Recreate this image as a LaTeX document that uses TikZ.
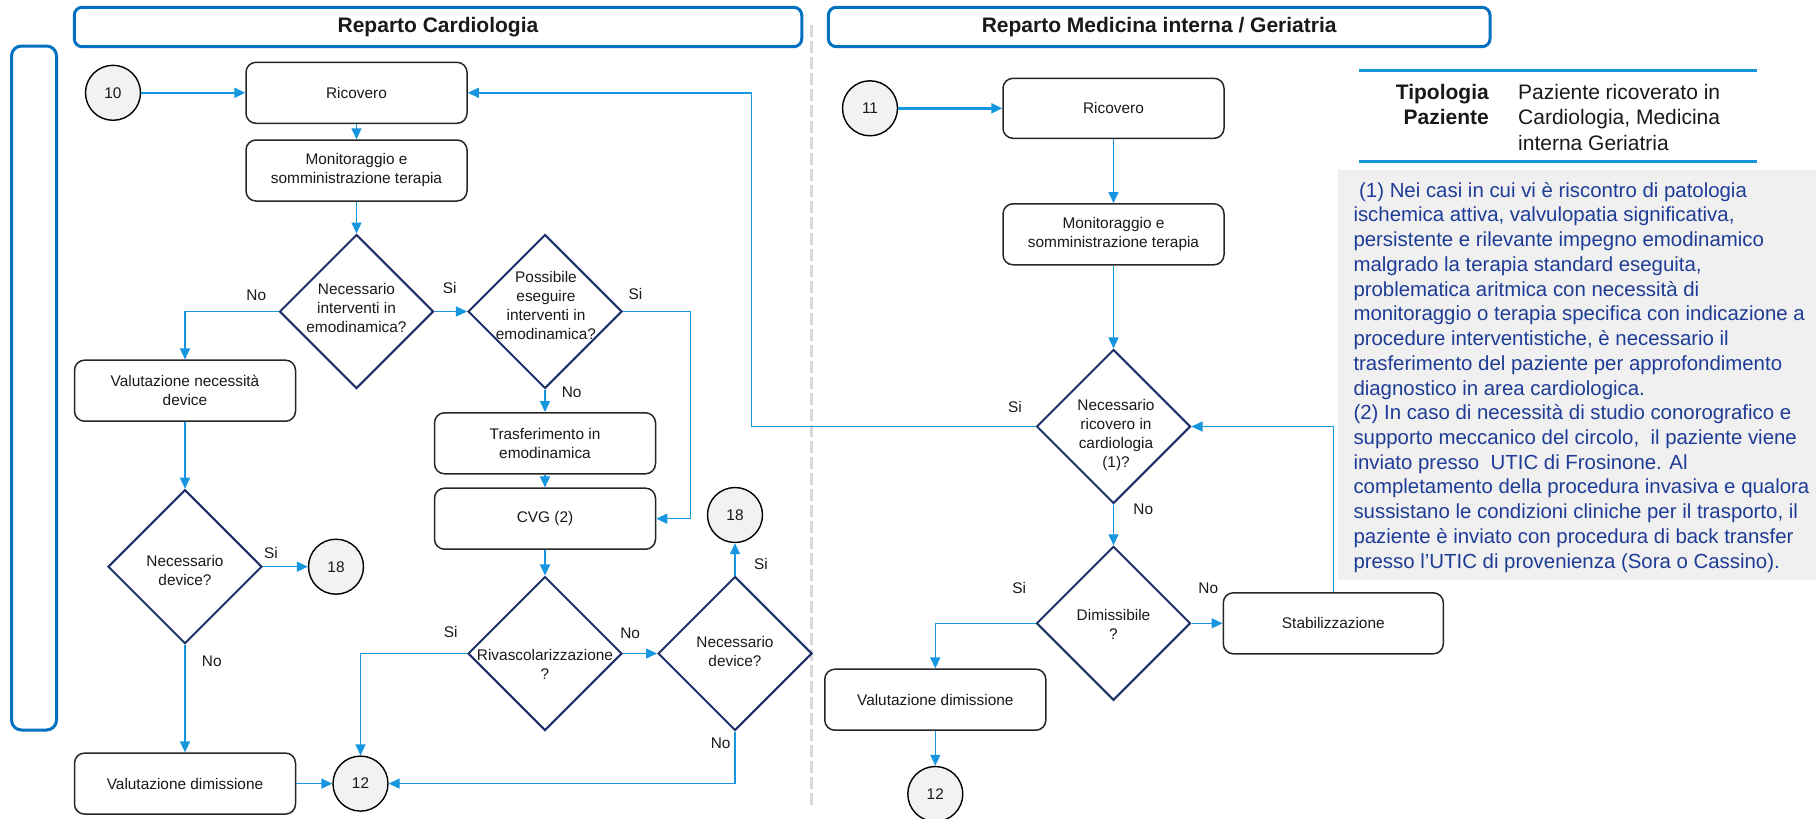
\documentclass[tikz,border=0pt]{standalone}
\usepackage{fontspec}
\setmainfont{Liberation Sans}
\usetikzlibrary{shapes.geometric,arrows.meta}
\definecolor{arr}{RGB}{22,150,222}
\definecolor{navy}{RGB}{31,48,104}
\definecolor{hdr}{RGB}{0,112,192}
\definecolor{boxline}{RGB}{38,38,38}
\definecolor{circfill}{RGB}{242,242,242}
\definecolor{notefill}{RGB}{240,240,240}
\definecolor{notetext}{RGB}{30,60,150}
\definecolor{tipline}{RGB}{20,150,220}
\definecolor{divider}{RGB}{217,217,217}
\begin{document}
\begin{tikzpicture}[x=1pt,y=-1pt,
  every node/.style={font=\fontsize{15.4}{19}\selectfont, text=black!90},
  procbox/.style={draw=boxline, line width=1.5pt, rounded corners=10pt, minimum width=221pt, minimum height=61pt, align=center, inner sep=0pt},
  dia/.style={diamond, draw=navy, line width=2pt, minimum width=154pt, minimum height=154pt, inner sep=0pt, aspect=1},
  dtext/.style={align=center, inner sep=0pt},
  circ/.style={circle, draw=black, line width=1.4pt, fill=circfill, minimum size=55pt, inner sep=0pt},
  hdrbox/.style={draw=hdr, line width=3pt, rounded corners=8pt, minimum height=39.4pt, inner sep=0pt, font=\fontsize{21}{25}\selectfont\bfseries},
  lbl/.style={inner sep=0pt, text height=11pt, text depth=0pt},
  conn/.style={draw=arr, line width=1.4pt, -{Triangle[length=11pt,width=10pt]}},
  thickconn/.style={conn, line width=2.5pt},
]
\useasboundingbox (0,0) rectangle (1816,819);

% headers and lanes
\node[hdrbox, minimum width=727.5pt] (h1) at (438,27) {Reparto Cardiologia};
\node[hdrbox, minimum width=661.7pt] (h2) at (1159.2,27) {Reparto Medicina interna / Geriatria};
\node[draw=hdr, line width=3pt, rounded corners=10pt, minimum width=45pt, minimum height=684pt] (lane) at (34,388) {};
\draw[divider, line width=3.5pt, dash pattern=on 12pt off 4pt] (811.5,25) -- (811.5,807);

% patient type table
\draw[tipline, line width=2.8pt] (1359,70.7) -- (1757,70.7);
\draw[tipline, line width=2.8pt] (1359,161.7) -- (1757,161.7);
\node[anchor=north east, inner sep=0pt, align=right, font=\fontsize{21}{25.5}\selectfont\bfseries] (tiph) at (1489,84) {Tipologia\\Paziente};
\node[anchor=north west, inner sep=0pt, align=left, font=\fontsize{21}{25.5}\selectfont] (tipv) at (1518,84) {Paziente ricoverato in\\Cardiologia, Medicina\\interna Geriatria};

% notes
\fill[notefill] (1338,170) rectangle (1816,580);
\node[anchor=north west, inner sep=0pt, align=left, text=notetext, font=\fontsize{20.4}{24.73}\selectfont] (note) at (1353.3,182) {\ (1) Nei casi in cui vi è riscontro di patologia\\
ischemica attiva, valvulopatia significativa,\\
persistente e rilevante impegno emodinamico\\
malgrado la terapia standard eseguita,\\
problematica aritmica con necessità di\\
monitoraggio o terapia specifica con indicazione a\\
procedure interventistiche, è necessario il\\
trasferimento del paziente per approfondimento\\
diagnostico in area cardiologica.\\
(2) In caso di necessità di studio conorografico e\\
supporto meccanico del circolo, \ il paziente viene\\
inviato presso \ UTIC di Frosinone. Al\\
completamento della procedura invasiva e qualora\\
sussistano le condizioni cliniche per il trasporto, il\\
paziente è inviato con procedura di back transfer\\
presso l’UTIC di provenienza (Sora o Cassino).};

% ---- left: Cardiologia
\node[circ] (c10) at (113,92.8) {10};
\node[procbox] (ric1) at (356.5,92.8) {Ricovero};
\node[procbox] (mon1) at (356.5,170.5) {Monitoraggio e\\somministrazione terapia};
\node[dia] (d1) at (356.5,311.5) {};
\node[dtext] (d1t) at (356.5,307.7) {Necessario\\interventi in\\emodinamica?};
\node[dia] (d2) at (545,311.5) {};
\node[dtext] (d2t) at (546,305.3) {Possibile\\eseguire\\interventi in\\emodinamica?};
\node[procbox] (vnd) at (185,390.7) {Valutazione necessità\\device};
\node[procbox] (tras) at (545,443.3) {Trasferimento in\\emodinamica};
\node[procbox] (cvg) at (545,518.7) {CVG (2)};
\node[circ] (c18b) at (735,515) {18};
\node[dia] (d3) at (185,566.7) {};
\node[dtext] (d3t) at (185,570) {Necessario\\device?};
\node[circ] (c18a) at (336,566.7) {18};
\node[dia] (d4) at (545,653.5) {};
\node[dtext] (d4t) at (545,664) {Rivascolarizzazione\\?};
\node[dia] (d5) at (735,653.5) {};
\node[dtext] (d5t) at (735,651) {Necessario\\device?};
\node[procbox] (vd1) at (185,783.6) {Valutazione dimissione};
\node[circ] (c12a) at (360.5,783.6) {12};

\coordinate (loopA) at (690.4,311.5);
\coordinate (loopB) at (751.6,92.8);

\draw[thickconn] (c10) -- (ric1);
\draw[conn] (ric1) -- (mon1);
\draw[conn] (mon1) -- (d1);
\draw[conn] (d1) -- (d2);
\draw[conn] (d1.west) -| (vnd.north);
\draw[conn] (d2) -- (tras);
\draw[conn] (d2.east) -- (loopA) |- (cvg.east);
\draw[conn] (tras) -- (cvg);
\draw[conn] (vnd) -- (d3);
\draw[conn] (d3) -- (c18a);
\draw[conn] (d3) -- (vd1);
\draw[conn] (vd1) -- (c12a);
\draw[conn] (cvg) -- (d4);
\draw[conn] (d4.west) -| (c12a.north);
\draw[conn] (d4) -- (d5);
\draw[conn] (d5) -- (c18b);
\draw[conn] (d5.south) |- (c12a.east);

\node[lbl] (l1) at (256.3,295) {No};
\node[lbl] (l2) at (449.8,288.3) {Si};
\node[lbl] (l3) at (635.5,294.3) {Si};
\node[lbl] (l4) at (571.7,391.7) {No};
\node[lbl] (l5) at (271,553.3) {Si};
\node[lbl] (l6) at (211.8,660.7) {No};
\node[lbl] (l7) at (450.8,631.7) {Si};
\node[lbl] (l8) at (630.2,632.7) {No};
\node[lbl] (l9) at (761,564) {Si};
\node[lbl] (l10) at (720.7,743.3) {No};

% ---- right: Medicina interna
\node[circ] (c11) at (870,108.3) {11};
\node[procbox, minimum height=60pt] (ric2) at (1113.5,108.3) {Ricovero};
\node[procbox] (mon2) at (1113.5,234.3) {Monitoraggio e\\somministrazione terapia};
\node[dia] (d6) at (1113.5,426.5) {};
\node[dtext] (d6t) at (1116,435) {Necessario\\ricovero in\\cardiologia\\(1)?};
\node[dia] (d7) at (1113.5,623.3) {};
\node[dtext] (d7t) at (1113.5,624.5) {Dimissibile\\?};
\node[procbox, minimum width=220pt] (stab) at (1333.3,623.3) {Stabilizzazione};
\node[procbox] (vd2) at (935.3,699.7) {Valutazione dimissione};
\node[circ] (c12b) at (935.3,794) {12};

\draw[thickconn] (c11) -- (ric2);
\draw[conn] (ric2) -- (mon2);
\draw[conn] (mon2) -- (d6);
\draw[conn] (d6) -- (d7);
\draw[conn] (d7.west) -| (vd2.north);
\draw[conn] (d7) -- (stab);
\draw[conn] (vd2) -- (c12b);
\draw[conn] (stab.north) |- (d6.east);
\draw[conn] (d6.west) -| (loopB) -- (ric1.east);

\node[lbl] (l11) at (1015,406.7) {Si};
\node[lbl] (l12) at (1143.3,509) {No};
\node[lbl] (l13) at (1019.3,588.3) {Si};
\node[lbl] (l14) at (1208.3,588.3) {No};
\end{tikzpicture}
\end{document}
